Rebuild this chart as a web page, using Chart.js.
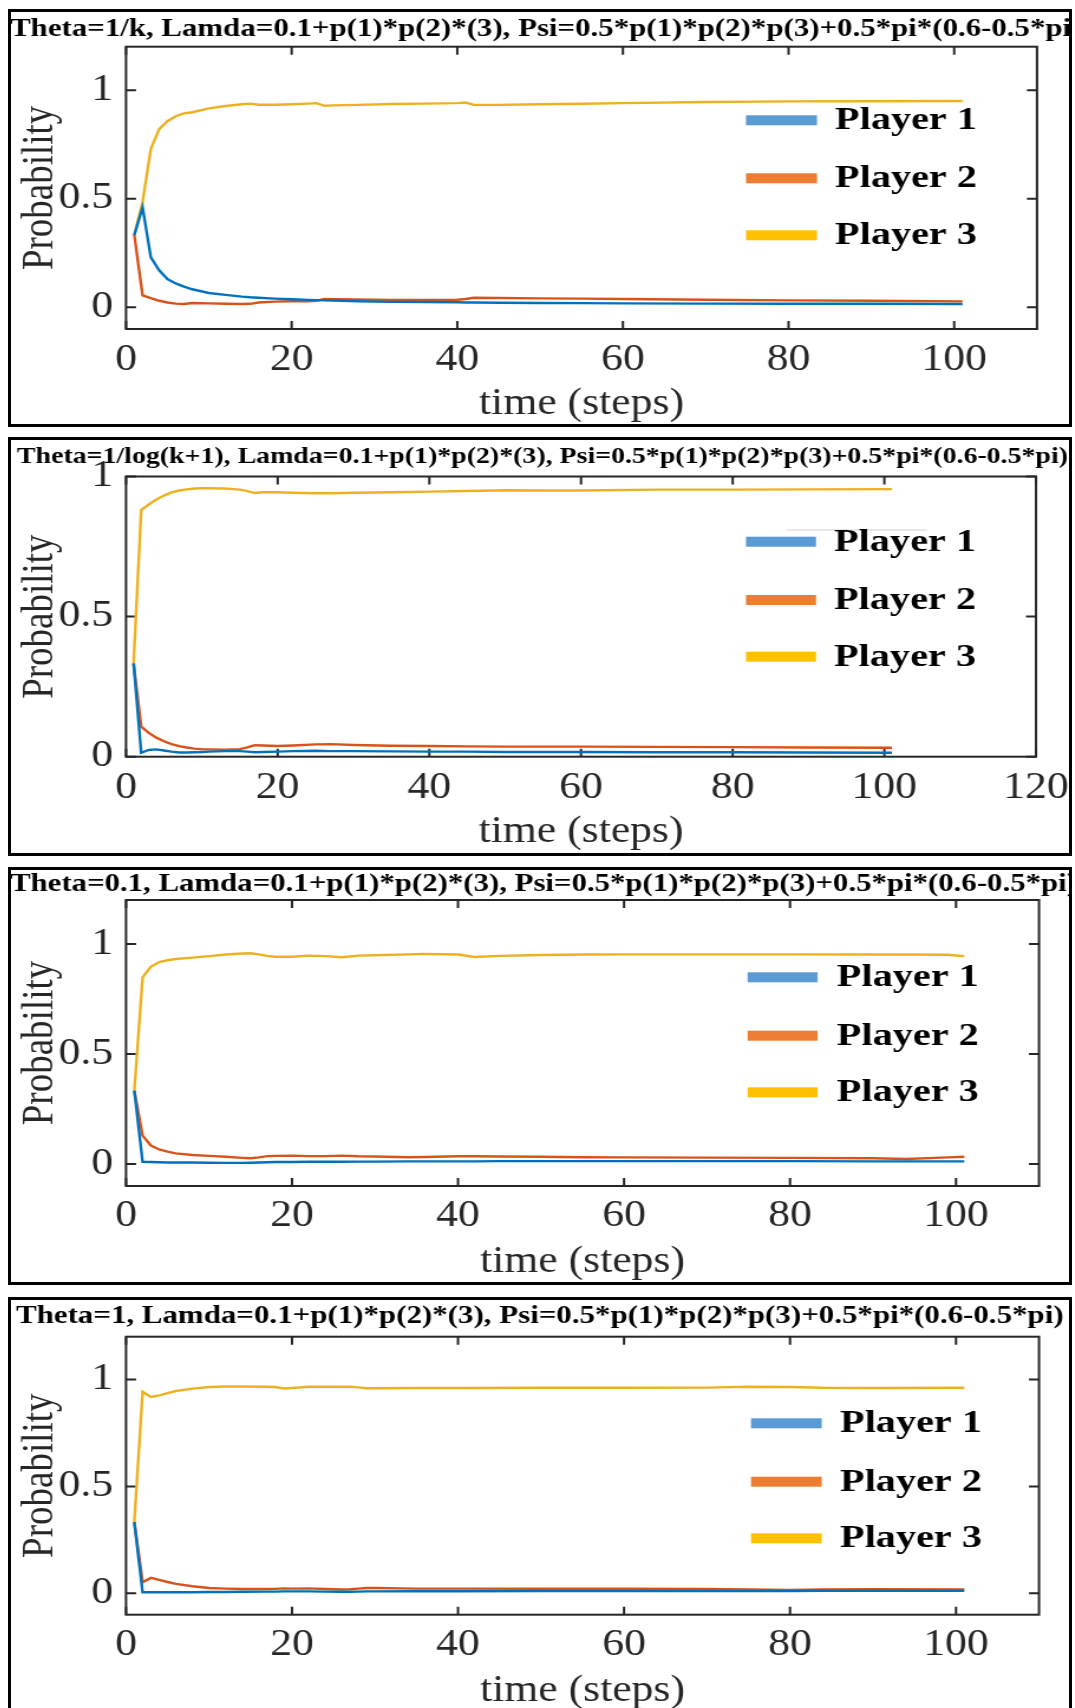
<!DOCTYPE html>
<html>
<head>
<meta charset="utf-8">
<script src="https://cdn.jsdelivr.net/npm/chart.js@4.4.1/dist/chart.umd.min.js"></script>
<style>
  html, body { margin: 0; padding: 0; background: #fff; }
  body { width: 1075px; height: 1708px; position: relative; overflow: hidden; }
  .frame { position: absolute; left: 8px; width: 1064px; border: 3px solid #000; box-sizing: border-box; overflow: hidden; background: #fff; }
  .frame canvas { position: absolute; left: 0; top: 0; transform-origin: 0 0; }
</style>
</head>
<body>
<div class="frame" style="top:9px;height:418px"><canvas id="c0"></canvas></div>
<div class="frame" style="top:437px;height:419px"><canvas id="c1"></canvas></div>
<div class="frame" style="top:867px;height:418px"><canvas id="c2"></canvas></div>
<div class="frame" style="top:1297px;height:420px"><canvas id="c3"></canvas></div>
<script>
// --- Theta = 1/k
const steps1 = [1, 2, 3, 4, 5, 6, 7, 8, 10, 12, 14, 15, 16, 18, 20, 22, 23, 24, 25, 28, 32, 36, 40, 41, 42, 45, 50, 55, 60, 70, 80, 90, 101];
const p1Player1 = [0.333, 0.46, 0.23, 0.17, 0.13, 0.11, 0.095, 0.083, 0.066, 0.057, 0.049, 0.046, 0.044, 0.04, 0.037, 0.034, 0.033, 0.032, 0.031, 0.028, 0.025, 0.024, 0.023, 0.022, 0.022, 0.021, 0.02, 0.019, 0.018, 0.017, 0.016, 0.016, 0.015];
const p1Player2 = [0.333, 0.055, 0.042, 0.03, 0.022, 0.017, 0.015, 0.02, 0.018, 0.016, 0.015, 0.016, 0.022, 0.026, 0.028, 0.028, 0.03, 0.038, 0.037, 0.036, 0.034, 0.034, 0.035, 0.038, 0.044, 0.043, 0.041, 0.04, 0.038, 0.035, 0.032, 0.03, 0.027];
const p1Player3 = [0.333, 0.485, 0.73, 0.82, 0.857, 0.88, 0.893, 0.898, 0.916, 0.927, 0.935, 0.938, 0.933, 0.933, 0.935, 0.938, 0.94, 0.928, 0.93, 0.932, 0.936, 0.938, 0.94, 0.943, 0.932, 0.932, 0.935, 0.937, 0.94, 0.945, 0.948, 0.949, 0.95];

// --- Theta = 1/log(k+1)
const steps2 = [1, 2, 3, 4, 5, 6, 7, 8, 9, 10, 11, 13, 15, 16, 17, 18, 20, 22, 25, 27, 30, 35, 40, 45, 50, 55, 60, 70, 80, 90, 101];
const p2Player1 = [0.333, 0.014, 0.024, 0.026, 0.022, 0.018, 0.015, 0.015, 0.016, 0.017, 0.018, 0.02, 0.02, 0.018, 0.016, 0.017, 0.018, 0.02, 0.021, 0.02, 0.02, 0.019, 0.018, 0.018, 0.017, 0.017, 0.017, 0.016, 0.016, 0.015, 0.014];
const p2Player2 = [0.333, 0.107, 0.085, 0.068, 0.055, 0.045, 0.038, 0.033, 0.029, 0.027, 0.026, 0.025, 0.027, 0.033, 0.041, 0.04, 0.038, 0.04, 0.044, 0.045, 0.042, 0.039, 0.038, 0.037, 0.036, 0.036, 0.036, 0.035, 0.034, 0.033, 0.032];
const p2Player3 = [0.333, 0.88, 0.9, 0.918, 0.932, 0.943, 0.95, 0.954, 0.957, 0.958, 0.958, 0.957, 0.953, 0.948, 0.941, 0.944, 0.944, 0.942, 0.94, 0.94, 0.942, 0.944, 0.946, 0.948, 0.951, 0.95, 0.95, 0.953, 0.953, 0.954, 0.955];

// --- Theta = 0.1
const steps3 = [1, 2, 3, 4, 5, 6, 8, 10, 12, 14, 15, 16, 17, 18, 20, 22, 24, 26, 28, 30, 34, 36, 40, 42, 45, 50, 55, 60, 70, 80, 90, 94, 99, 101];
const p3Player1 = [0.333, 0.01, 0.009, 0.008, 0.007, 0.007, 0.007, 0.006, 0.005, 0.005, 0.006, 0.007, 0.008, 0.009, 0.009, 0.01, 0.01, 0.01, 0.011, 0.011, 0.012, 0.012, 0.012, 0.012, 0.013, 0.013, 0.013, 0.013, 0.013, 0.013, 0.012, 0.012, 0.012, 0.012];
const p3Player2 = [0.333, 0.129, 0.084, 0.066, 0.056, 0.048, 0.041, 0.037, 0.033, 0.028, 0.026, 0.03, 0.036, 0.037, 0.038, 0.036, 0.036, 0.038, 0.035, 0.034, 0.031, 0.032, 0.035, 0.035, 0.034, 0.033, 0.031, 0.03, 0.029, 0.028, 0.026, 0.023, 0.03, 0.033];
const p3Player3 = [0.333, 0.848, 0.897, 0.918, 0.926, 0.932, 0.938, 0.945, 0.952, 0.957, 0.958, 0.953, 0.946, 0.942, 0.942, 0.947, 0.945, 0.94, 0.947, 0.949, 0.953, 0.955, 0.952, 0.941, 0.946, 0.95, 0.952, 0.953, 0.953, 0.953, 0.952, 0.952, 0.951, 0.945];

// --- Theta = 1
const steps4 = [1, 2, 3, 4, 5, 6, 8, 10, 12, 14, 17, 18, 19, 20, 22, 24, 26, 27, 28, 29, 30, 35, 40, 50, 60, 70, 75, 80, 84, 90, 101];
const p4Player1 = [0.333, 0.005, 0.005, 0.005, 0.005, 0.005, 0.005, 0.006, 0.006, 0.007, 0.008, 0.008, 0.009, 0.009, 0.009, 0.008, 0.007, 0.007, 0.008, 0.009, 0.009, 0.01, 0.01, 0.011, 0.011, 0.011, 0.011, 0.011, 0.012, 0.012, 0.012];
const p4Player2 = [0.333, 0.052, 0.072, 0.063, 0.053, 0.044, 0.033, 0.025, 0.022, 0.02, 0.02, 0.021, 0.023, 0.022, 0.023, 0.02, 0.018, 0.019, 0.022, 0.025, 0.025, 0.022, 0.022, 0.021, 0.021, 0.02, 0.018, 0.016, 0.018, 0.019, 0.018];
const p4Player3 = [0.333, 0.942, 0.918, 0.926, 0.936, 0.946, 0.957, 0.965, 0.967, 0.967, 0.966, 0.965, 0.958, 0.96, 0.966, 0.966, 0.966, 0.966, 0.963, 0.959, 0.959, 0.96, 0.96, 0.961, 0.961, 0.962, 0.966, 0.965, 0.961, 0.96, 0.961];

const playerNames = ['Player 1', 'Player 2', 'Player 3'];
const titles = [
  'Theta=1/k, Lamda=0.1+p(1)*p(2)*(3), Psi=0.5*p(1)*p(2)*p(3)+0.5*pi*(0.6-0.5*pi)',
  'Theta=1/log(k+1), Lamda=0.1+p(1)*p(2)*(3), Psi=0.5*p(1)*p(2)*p(3)+0.5*pi*(0.6-0.5*pi)',
  'Theta=0.1, Lamda=0.1+p(1)*p(2)*(3), Psi=0.5*p(1)*p(2)*p(3)+0.5*pi*(0.6-0.5*pi)',
  'Theta=1, Lamda=0.1+p(1)*p(2)*(3), Psi=0.5*p(1)*p(2)*p(3)+0.5*pi*(0.6-0.5*pi)'
];
const runs = [
  { steps: steps1, players: [p1Player1, p1Player2, p1Player3] },
  { steps: steps2, players: [p2Player1, p2Player2, p2Player3] },
  { steps: steps3, players: [p3Player1, p3Player2, p3Player3] },
  { steps: steps4, players: [p4Player1, p4Player2, p4Player3] }
];

// styling
const lineColors = ['#0072BD', '#D95319', '#EDB120'];
const legendColors = ['#5B9BD5', '#ED7D31', '#FFC000'];
const AXIS = '#262626';
const SERIF = '"Liberation Serif", "Times New Roman", serif';
const CANVAS_W = 896;
const SX = 1058 / CANVAS_W;     // canvases are drawn narrow, then widened
const INNER_LEFT = 11;          // page x of the frames' inner edge
const LABEL_SIZE = 37;

// page positions of each panel's parts
const layouts = [
  { innerTop: 12, innerH: 412, plot: [126, 1037, 46.7, 329], xMax: 110, yMin: -0.1, yMax: 1.2,
    xTickY: 360, xTitleY: 404, title: [10, 36, 26.15],
    swatch: [746, 817], textX: 835, rows: [120.3, 178.3, 235.3] },
  { innerTop: 440, innerH: 413, plot: [126, 1036, 476.5, 756.7], xMax: 120, yMin: 0, yMax: 1,
    xTickY: 788.3, xTitleY: 832, title: [17, 462.5, 23.6],
    swatch: [746, 816], textX: 834, rows: [541.7, 600, 656.7], rule: [787, 927, 530] },
  { innerTop: 870, innerH: 412, plot: [126, 1039, 900, 1186], xMax: 110, yMin: -0.1, yMax: 1.2,
    xTickY: 1216.7, xTitleY: 1262, title: [10, 891, 26.1],
    swatch: [747.6, 817.6], textX: 836.8, rows: [977.3, 1035.7, 1092.3] },
  { innerTop: 1300, innerH: 414, plot: [126, 1039, 1336.7, 1614.7], xMax: 110, yMin: -0.1, yMax: 1.2,
    xTickY: 1645.7, xTitleY: 1691, title: [16, 1322.7, 26.2],
    swatch: [751, 821.7], textX: 840, rows: [1423.3, 1481.7, 1538.3] }
];

const lx = px => (px - INNER_LEFT) / SX;

// box round the axes with inward ticks on all four sides
const axesBox = {
  id: 'axesBox',
  beforeDatasetsDraw(chart) {
    const { ctx, chartArea: a, scales: { x, y } } = chart;
    ctx.save();
    ctx.strokeStyle = AXIS;
    ctx.lineWidth = 2;
    ctx.strokeRect(a.left, a.top, a.right - a.left, a.bottom - a.top);
    ctx.beginPath();
    x.ticks.forEach(t => {
      const px = x.getPixelForValue(t.value);
      ctx.moveTo(px, a.bottom); ctx.lineTo(px, a.bottom - 8);
      ctx.moveTo(px, a.top); ctx.lineTo(px, a.top + 8);
    });
    y.ticks.forEach(t => {
      const py = y.getPixelForValue(t.value);
      ctx.moveTo(a.left, py); ctx.lineTo(a.left + 8.5, py);
      ctx.moveTo(a.right, py); ctx.lineTo(a.right - 8.5, py);
    });
    ctx.stroke();
    ctx.restore();
  }
};

function makeChart(i) {
  const L = layouts[i];
  const run = runs[i];
  const [pl, pr, pt, pb] = L.plot;
  const ty = py => py - L.innerTop;
  const canvas = document.getElementById('c' + i);
  canvas.width = CANVAS_W;
  canvas.height = L.innerH;
  canvas.style.transform = 'scaleX(' + SX + ')';

  const plotBottom = ty(pb);
  const font = { family: SERIF, size: LABEL_SIZE, lineHeight: 1 };

  const headerAndLegend = {
    id: 'headerAndLegend',
    afterDraw(chart) {
      const ctx = chart.ctx;
      ctx.save();
      // panel heading
      ctx.font = 'bold ' + L.title[2] + 'px ' + SERIF;
      ctx.fillStyle = '#000';
      ctx.textAlign = 'left';
      ctx.textBaseline = 'alphabetic';
      ctx.fillText(titles[i], lx(L.title[0]), ty(L.title[1]));
      // legend entries
      if (L.rule) {
        ctx.strokeStyle = '#d0d0d0';
        ctx.lineWidth = 1;
        ctx.beginPath();
        ctx.moveTo(lx(L.rule[0]), ty(L.rule[2]));
        ctx.lineTo(lx(L.rule[1]), ty(L.rule[2]));
        ctx.stroke();
      }
      chart.data.datasets.forEach((ds, j) => {
        const yy = ty(L.rows[j]);
        ctx.fillStyle = legendColors[j];
        ctx.fillRect(lx(L.swatch[0]), yy - 5, lx(L.swatch[1]) - lx(L.swatch[0]), 10);
        ctx.save();
        ctx.translate(lx(L.textX), yy + 1);
        ctx.scale(1.1, 1);
        ctx.font = 'bold 31px ' + SERIF;
        ctx.fillStyle = '#000';
        ctx.textBaseline = 'middle';
        ctx.fillText(ds.label, 0, 0);
        ctx.restore();
      });
      ctx.restore();
    }
  };

  new Chart(canvas, {
    type: 'line',
    data: {
      datasets: run.players.map((vals, j) => ({
        label: playerNames[j],
        data: run.steps.map((s, k) => ({ x: s, y: vals[k] })),
        borderColor: lineColors[j],
        borderWidth: 2.4,
        pointRadius: 0,
        tension: 0,
        fill: false
      }))
    },
    options: {
      responsive: false,
      animation: false,
      devicePixelRatio: 1,
      layout: { padding: { top: ty(pt), right: (INNER_LEFT + CANVAS_W * SX - pr) / SX, left: 0, bottom: 0 } },
      plugins: { legend: { display: false }, title: { display: false }, tooltip: { enabled: false } },
      scales: {
        x: {
          type: 'linear', min: 0, max: L.xMax,
          grid: { display: false, drawTicks: false },
          border: { display: false },
          ticks: {
            stepSize: 20, includeBounds: false, autoSkip: false, maxRotation: 0, minRotation: 0,
            padding: L.xTickY - pb - LABEL_SIZE / 2, color: AXIS, font
          },
          title: {
            display: true, text: 'time (steps)', color: AXIS, font,
            padding: { top: 0, bottom: L.innerH - ty(L.xTitleY) - LABEL_SIZE / 2 }
          },
          afterFit(s) {
            s.height = L.innerH - plotBottom;
            s.paddingLeft = 0; s.paddingRight = 0;
          }
        },
        y: {
          type: 'linear', min: L.yMin, max: L.yMax,
          grid: { display: false, drawTicks: false },
          border: { display: false },
          ticks: {
            stepSize: 0.5, includeBounds: false, padding: 11, color: AXIS, font,
            callback: v => String(Math.round(v * 10) / 10)
          },
          title: { display: true, text: 'Probability', color: AXIS, font, padding: { top: 7, bottom: 0 } },
          afterFit(s) {
            s.width = lx(pl);
            s.paddingTop = 0; s.paddingBottom = 0;
          }
        }
      }
    },
    plugins: [axesBox, headerAndLegend]
  });
}

layouts.forEach((_, i) => makeChart(i));
</script>
</body>
</html>
